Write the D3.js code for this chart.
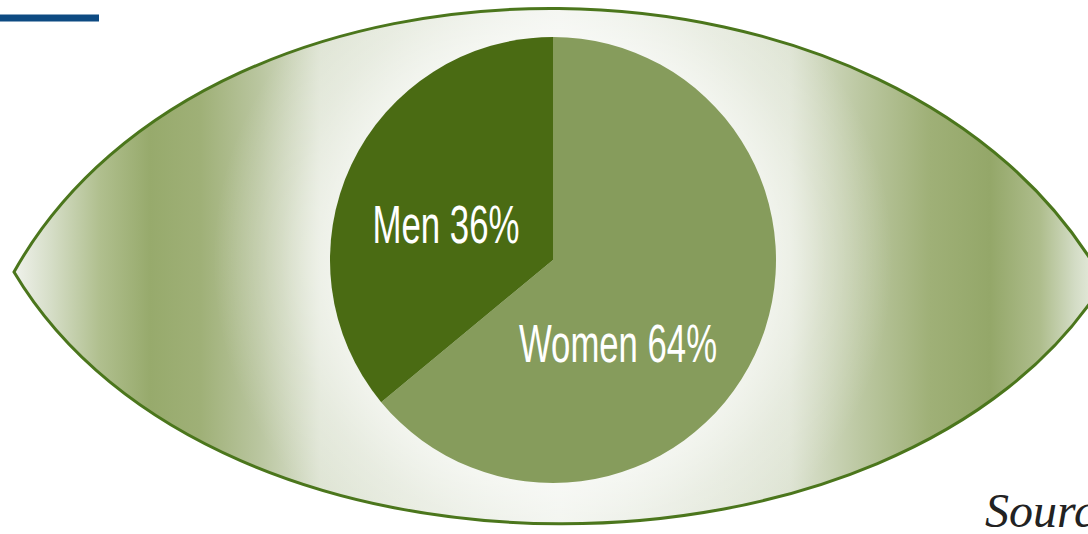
<!DOCTYPE html>
<html>
<head>
<meta charset="utf-8">
<script src="https://cdn.jsdelivr.net/npm/d3@7"></script>
<style>
  html, body { margin: 0; padding: 0; background: #ffffff; overflow: hidden; }
  svg { display: block; }
</style>
</head>
<body>
<svg id="chart" width="1088" height="534"></svg>
<script>
// ---- data ----
const categories = ["Women", "Men"];
const values = [64, 36];
const labels = ["Women 64%", "Men 36%"];
const sliceColors = ["#869c5c", "#4a6b13"];
const sourceText = ["Source:"];

// ---- layout ----
const W = 1088, H = 534;
const svg = d3.select("#chart");
const defs = svg.append("defs");

const cx = 553, cy = 260, R = 223;

// eye gradient (horizontal)
const lg = defs.append("linearGradient").attr("id", "eyeGrad")
  .attr("gradientUnits", "userSpaceOnUse")
  .attr("x1", 14).attr("y1", 0).attr("x2", 1104).attr("y2", 0);
const stops = [
  [14, "#f0f2ec"], [50, "#d6dec8"], [100, "#b0bf8e"], [150, "#97aa6c"], [200, "#9fb077"],
  [260, "#bac6a0"], [320, "#dde3d2"], [559, "#eef1ea"], [790, "#dde3d2"],
  [860, "#bcc8a2"], [930, "#9fb077"], [990, "#94a769"], [1040, "#aebd8c"], [1075, "#d3dcc5"],
  [1104, "#eef1e8"]
];
stops.forEach(s => lg.append("stop").attr("offset", ((s[0] - 14) / 1090)).attr("stop-color", s[1]));

// glow around pie
const rg = defs.append("radialGradient").attr("id", "glow")
  .attr("gradientUnits", "userSpaceOnUse")
  .attr("cx", cx).attr("cy", cy).attr("r", 340);
[[0, 0.55], [R / 340, 0.55], [0.8, 0.25], [1, 0]].forEach(s =>
  rg.append("stop").attr("offset", s[0]).attr("stop-color", "#ffffff").attr("stop-opacity", s[1]));

// eye shape
const eye = d3.path();
eye.moveTo(14, 272);
eye.bezierCurveTo(214, -85, 904, -77, 1104, 282);
eye.bezierCurveTo(904, 604, 214, 608, 14, 272);
eye.closePath();

defs.append("clipPath").attr("id", "eyeClip").append("path").attr("d", eye.toString());

svg.append("path").attr("d", eye.toString()).attr("fill", "url(#eyeGrad)");
svg.append("rect").attr("x", 0).attr("y", 0).attr("width", W).attr("height", H)
  .attr("fill", "url(#glow)").attr("clip-path", "url(#eyeClip)");
svg.append("path").attr("d", eye.toString()).attr("fill", "none")
  .attr("stroke", "#4b761c").attr("stroke-width", 3);

// blue rule top-left
svg.append("line").attr("x1", 0).attr("x2", 99).attr("y1", 18).attr("y2", 18)
  .attr("stroke", "#0d4a82").attr("stroke-width", 7);

// pie
const pie = d3.pie().sort(null).value(d => d)(values);
const arc = d3.arc().innerRadius(0).outerRadius(R);
const g = svg.append("g").attr("transform", `translate(${cx},${cy})`);
g.selectAll("path.slice").data(pie).enter().append("path")
  .attr("class", "slice")
  .attr("d", arc)
  .attr("fill", (d, i) => sliceColors[i]);

// labels
const labelPos = [[65, 102], [-107, -17]];
const labelWidth = [198, 147];
g.selectAll("text.lbl").data(pie).enter().append("text")
  .attr("class", "lbl")
  .attr("x", (d, i) => labelPos[i][0])
  .attr("y", (d, i) => labelPos[i][1])
  .attr("text-anchor", "middle")
  .attr("fill", "#ffffff")
  .attr("font-family", "'Liberation Sans', Arial, sans-serif")
  .attr("font-size", 54)
  .attr("textLength", (d, i) => labelWidth[i])
  .attr("lengthAdjust", "spacingAndGlyphs")
  .text((d, i) => labels[i]);

// source text (cut at the right edge, as in the reference)
svg.append("text").attr("x", 985).attr("y", 527)
  .attr("font-family", "'Liberation Serif', 'Times New Roman', serif")
  .attr("font-style", "italic")
  .attr("font-size", 48)
  .attr("fill", "#222222")
  .text(sourceText[0]);
</script>
</body>
</html>
